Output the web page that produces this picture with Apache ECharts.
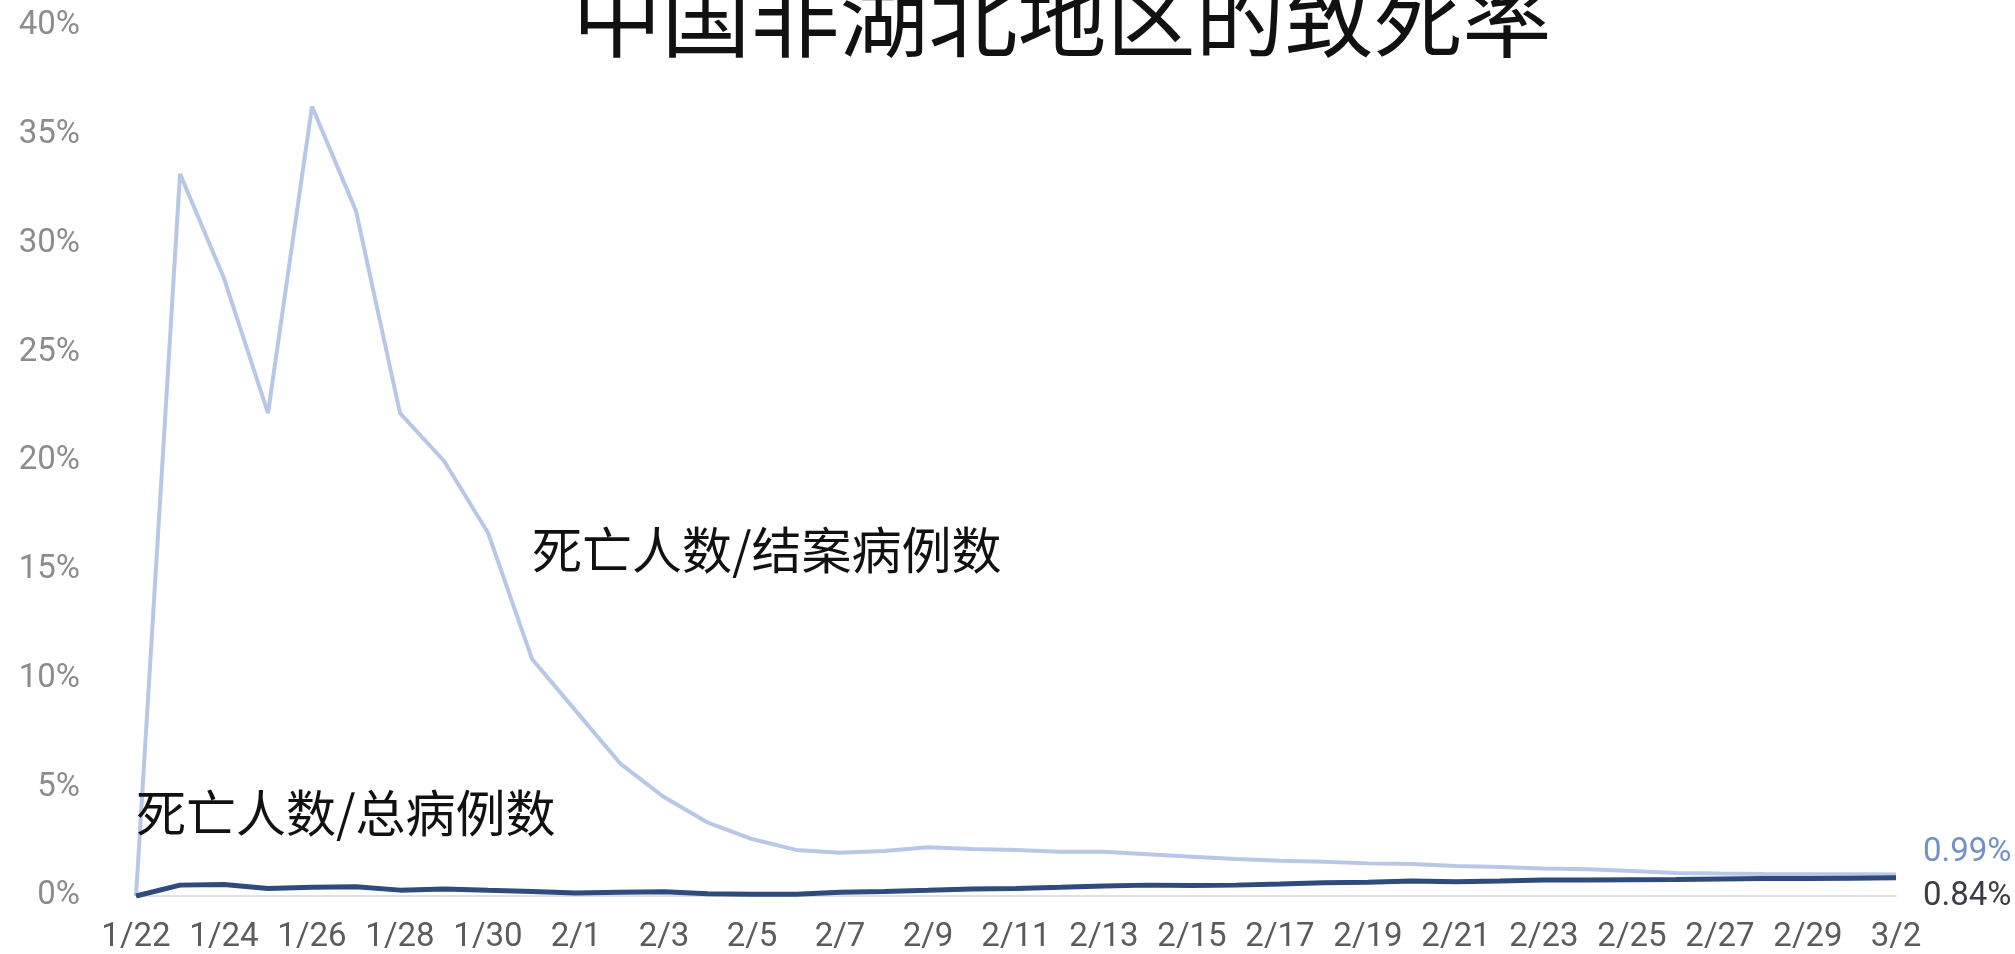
<!DOCTYPE html>
<html>
<head>
<meta charset="utf-8">
<script src="https://cdn.jsdelivr.net/npm/echarts@6/dist/echarts.min.js"></script>
<style>
html,body{margin:0;padding:0;background:#fff;}
#chart{width:2015px;height:954px;}
</style>
</head>
<body>
<div id="chart"></div>
<script>
var titleText = '中国非湖北地区的致死率';
var dates = ['1/22','1/23','1/24','1/25','1/26','1/27','1/28','1/29','1/30','1/31',
  '2/1','2/2','2/3','2/4','2/5','2/6','2/7','2/8','2/9','2/10',
  '2/11','2/12','2/13','2/14','2/15','2/16','2/17','2/18','2/19','2/20',
  '2/21','2/22','2/23','2/24','2/25','2/26','2/27','2/28','2/29','3/1','3/2'];
var closedName = '死亡人数/结案病例数';
var totalName = '死亡人数/总病例数';
// deaths / closed cases (%)
var closedRate = [0,33.2,28.4,22.2,36.3,31.5,22.2,20.0,16.7,10.9,
  8.5,6.1,4.55,3.37,2.62,2.12,1.99,2.07,2.24,2.16,
  2.11,2.04,2.04,1.92,1.81,1.70,1.62,1.58,1.50,1.47,
  1.38,1.33,1.27,1.23,1.15,1.06,1.03,1.01,1.00,1.00,0.99];
// deaths / total cases (%)
var totalRate = [0,0.50,0.53,0.35,0.40,0.43,0.27,0.32,0.26,0.21,
  0.14,0.17,0.20,0.10,0.08,0.08,0.17,0.21,0.26,0.32,
  0.35,0.40,0.46,0.50,0.48,0.50,0.55,0.61,0.63,0.69,
  0.66,0.69,0.74,0.74,0.75,0.76,0.78,0.80,0.80,0.82,0.84];
var closedLabelAt = ['1/31', 15.9];
var totalLabelAt = ['1/22', 3.8];

var chart = echarts.init(document.getElementById('chart'), null, {renderer:'canvas'});
var latin = 'Roboto, "Liberation Sans", sans-serif';
var cjk = '"Noto Sans CJK SC", sans-serif';
chart.setOption({
  backgroundColor:'#ffffff',
  animation:false,
  title:{
    text:titleText, left:1057, textAlign:'center', top:-33,
    textStyle:{fontFamily:cjk, fontSize:89, fontWeight:'normal', color:'#111'}
  },
  grid:{left:136, right:119, top:26, bottom:58, containLabel:false},
  xAxis:{
    type:'category', data:dates, boundaryGap:false,
    axisLine:{lineStyle:{color:'#d6d6d6', width:1.5}},
    axisTick:{show:false},
    axisLabel:{interval:1, color:'#5c5c5c', fontFamily:latin, fontWeight:'normal', fontSize:33, margin:25}
  },
  yAxis:{
    type:'value', min:0, max:40, interval:5,
    axisLine:{show:false}, axisTick:{show:false}, splitLine:{show:false},
    axisLabel:{formatter:'{value}%', color:'#8c8c8c', fontFamily:latin, fontWeight:'normal', fontSize:33, margin:56}
  },
  series:[
    {
      name:closedName, type:'line', data:closedRate, symbol:'none',
      lineStyle:{color:'#b9c7e6', width:4},
      endLabel:{show:true, formatter:function(p){return p.value.toFixed(2)+'%';},
        color:'#7390c4', fontFamily:latin, fontWeight:'normal', fontSize:33, offset:[19,-22]},
      markPoint:{symbol:'circle', symbolSize:0, silent:true,
        data:[{coord:closedLabelAt, label:{show:true, position:'inside', align:'left', verticalAlign:'middle',
          formatter:closedName, color:'#111', fontFamily:cjk, fontSize:50}}]}
    },
    {
      name:totalName, type:'line', data:totalRate, symbol:'none',
      lineStyle:{color:'#2f4a7c', width:5},
      endLabel:{show:true, formatter:function(p){return p.value.toFixed(2)+'%';},
        color:'#3c3c46', fontFamily:latin, fontWeight:'normal', fontSize:33, offset:[19,19]},
      markPoint:{symbol:'circle', symbolSize:0, silent:true,
        data:[{coord:totalLabelAt, label:{show:true, position:'inside', align:'left', verticalAlign:'middle',
          formatter:totalName, color:'#111', fontFamily:cjk, fontSize:50}}]}
    }
  ]
});
</script>
</body>
</html>
